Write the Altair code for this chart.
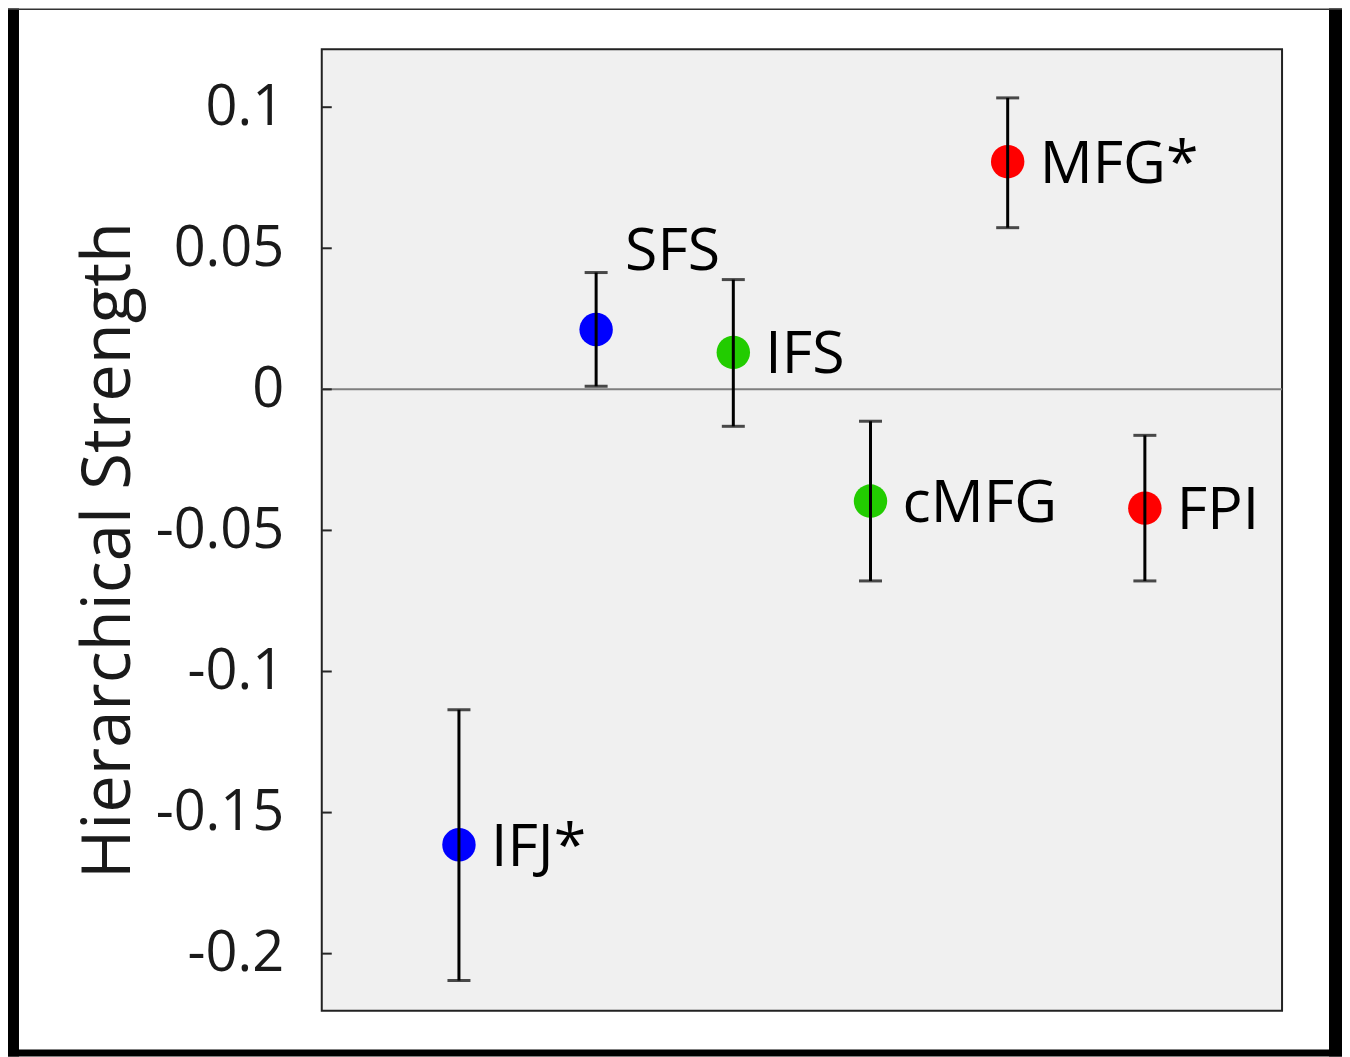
import altair as alt
import pandas as pd

regions = ["IFJ*", "SFS", "IFS", "cMFG", "MFG*", "FPI"]
xpos = [1, 2, 3, 4, 5, 6]
means = [-0.1614, 0.0212, 0.0131, -0.0396, 0.0807, -0.0421]
upper = [-0.1136, 0.0414, 0.0389, -0.0113, 0.1033, -0.0163]
lower = [-0.2095, 0.0011, -0.0131, -0.0679, 0.0573, -0.0679]
colors = ["#0000ff", "#0000ff", "#22cc00", "#22cc00", "#ff0000", "#ff0000"]
tick_vals = [-0.2, -0.15, -0.1, -0.05, 0, 0.05, 0.1]
zero_line = [0]

df = pd.DataFrame({"region": regions, "x": xpos, "m": means, "hi": upper,
                   "lo": lower, "c": colors})
ticks_df = pd.DataFrame({"t": tick_vals})
zero_df = pd.DataFrame({"z": zero_line})

W, H = 961, 962
FONT = "Open Sans"

xs = alt.Scale(domain=[0, 7], nice=False, zero=False)
ys = alt.Scale(domain=[-0.2202, 0.1205], nice=False, zero=False)

X = alt.X("x:Q", scale=xs, axis=None)
Yaxis = alt.Axis(values=tick_vals, ticks=False, tickSize=0, domain=False, grid=False,
                 labelExpr="'' + datum.value",
                 labelFont=FONT, labelFontSize=56, labelColor="#1a1a1a", labelPadding=38,
                 title="Hierarchical Strength", titleFont=FONT, titleFontSize=67,
                 titleFontWeight="normal", titleColor="#1a1a1a", titleAngle=-90,
                 titleAlign="center", titleBaseline="alphabetic", titleX=-192, titleY=501,
                 zindex=1)

zero = alt.Chart(zero_df).mark_rule(color="#7f7f7f", strokeWidth=2).encode(
    y=alt.Y("z:Q", scale=ys, axis=Yaxis))

tickmarks = alt.Chart(ticks_df).mark_rule(color="#262626", strokeWidth=2).encode(
    y=alt.Y("t:Q", scale=ys), x=alt.value(0), x2=alt.value(10))

points = alt.Chart(df).mark_circle(size=1120, opacity=1).encode(
    x=X, y=alt.Y("m:Q", scale=ys), color=alt.Color("c:N", scale=None))

bars = alt.Chart(df).mark_rule(color="#000000", strokeWidth=3).encode(
    x=X, y=alt.Y("lo:Q", scale=ys), y2="hi:Q")

cap_hi = alt.Chart(df).mark_tick(color="#000000", thickness=3, size=23,
                                 orient="horizontal").encode(x=X, y=alt.Y("hi:Q", scale=ys))
cap_lo = alt.Chart(df).mark_tick(color="#000000", thickness=3, size=23,
                                 orient="horizontal").encode(x=X, y=alt.Y("lo:Q", scale=ys))

labels = alt.Chart(df).transform_filter(alt.datum.region != "SFS").mark_text(
    align="left", baseline="middle", dx=32, dy=3, font=FONT, fontSize=59, color="#000000"
).encode(x=X, y=alt.Y("m:Q", scale=ys), text="region:N")

label_sfs = alt.Chart(df).transform_filter(alt.datum.region == "SFS").mark_text(
    align="left", baseline="middle", dx=29, dy=-78, font=FONT, fontSize=59, color="#000000"
).encode(x=X, y=alt.Y("m:Q", scale=ys), text="region:N")

# outer frame (decoration)
frame_df = pd.DataFrame({"k": [0]})
def frame_rect(x1, x2, y1, y2, col="#000000"):
    return alt.Chart(frame_df).mark_rect(color=col, clip=False).encode(
        x=alt.value(x1), x2=alt.value(x2), y=alt.value(y1), y2=alt.value(y2))

frame = (frame_rect(-314, -303, -41, 1008) + frame_rect(1008, 1021, -41, 1008)
         + frame_rect(-314, 1021, 1001, 1008) + frame_rect(-314, 1021, -41, -39.5, "#333333"))

chart = alt.layer(zero, tickmarks, points, bars, cap_hi, cap_lo, labels, label_sfs, frame).properties(
    width=W, height=H,
    padding={"left": 314, "top": 41, "right": 60, "bottom": 46},
    autosize=alt.AutoSizeParams(type="none"),
    background="white",
).configure_view(fill="#f0f0f0", stroke="#222222", strokeWidth=2)

chart.save("out.html", embed_options={"renderer": "svg", "actions": False})
